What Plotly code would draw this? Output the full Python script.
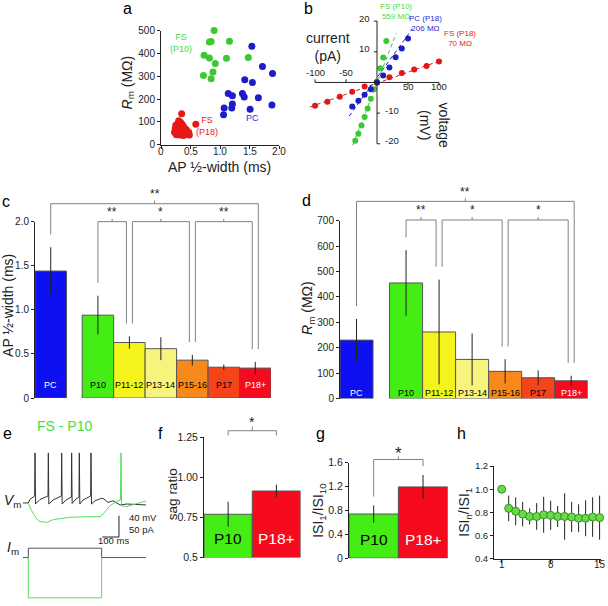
import plotly.graph_objects as go

W, H = 608, 606
FONT = "Liberation Sans, Arial, sans-serif"
INK = "#222222"
GREEN_TXT = "#44dd44"

# ------------------------------------------------------------------ data
# (a) AP half-width (ms) vs membrane resistance (MOhm)
fs_p10_halfwidth = [0.90, 0.85, 0.82, 1.16, 0.73, 0.82, 0.92, 1.11, 1.48, 0.72, 0.88, 0.85]
fs_p10_rm = [500, 452, 450, 453, 392, 380, 355, 378, 382, 303, 318, 289]
pc_halfwidth = [1.54, 1.72, 1.89, 1.42, 1.55, 1.14, 1.21, 1.38, 1.41, 1.65, 1.21, 1.20, 1.07, 1.51, 1.88, 1.06]
pc_rm = [431, 342, 312, 284, 272, 224, 214, 224, 209, 205, 178, 161, 161, 155, 174, 131]
fs_p18_halfwidth = [0.35, 0.59, 0.30, 0.33, 0.28, 0.36, 0.25, 0.31, 0.38, 0.27, 0.34, 0.29, 0.40, 0.24,
                    0.32, 0.37, 0.26, 0.30, 0.35, 0.28, 0.33, 0.42, 0.23, 0.31, 0.36, 0.27, 0.39, 0.29,
                    0.34, 0.45, 0.26, 0.32, 0.38, 0.30, 0.25, 0.35, 0.28, 0.43, 0.33, 0.31, 0.48, 0.47]
fs_p18_rm = [135, 89, 105, 98, 92, 88, 85, 82, 80, 78, 76, 74, 72, 70, 68, 66, 65, 63, 62, 60, 58, 57,
             55, 54, 52, 50, 49, 48, 46, 45, 44, 42, 40, 70, 60, 75, 55, 65, 85, 95, 42, 55]
a_xticks = [0, 0.5, 1.0, 1.5, 2.0]
a_xticklabels = ["0", "0.5", "1.0", "1.5", "2.0"]

# (b) I-V relations: current (pA) / voltage (mV)
iv_fs_p10_i = [-35, -30, -25, -20, -15, -10, -5, 0, 5, 10, 15]
iv_fs_p10_v = [-19, -16.7, -14, -11.3, -8.5, -5.3, -2.2, 0, 4.6, 8.1, 13.5]
iv_pc_p18_i = [-40, -30, -20, -10, 0, 10, 20, 30, 40, 50]
iv_pc_p18_v = [-7.8, -6.0, -4.0, -2.2, 0, 2.3, 4.9, 8.2, 11.1, 14.3]
iv_fs_p18_i = [-100, -80, -60, -40, -20, 0, 20, 40, 60, 80, 100]
iv_fs_p18_v = [-7.6, -6.3, -4.7, -3.0, -1.3, 0, 1.7, 3.1, 4.2, 5.4, 6.8]
fit_fs_p10_i = [-39, 31]
fit_fs_p10_v = [-20.5, 16]
fit_pc_p18_i = [-45, 57]
fit_pc_p18_v = [-11, 17.5]
fit_fs_p18_i = [-108, 105]
fit_fs_p18_v = [-8, 7.3]
b_xticks = [-100, -50, 50, 100]
b_yticks = [-20, -10, 10, 20]

# (c, d) bars
bar_categories = ["PC", "P10", "P11-12", "P13-14", "P15-16", "P17", "P18+"]
ap_halfwidth = [1.44, 0.94, 0.63, 0.56, 0.43, 0.35, 0.34]
ap_halfwidth_err = [0.27, 0.22, 0.07, 0.13, 0.06, 0.03, 0.07]
rm_mean = [230, 455, 262, 154, 107, 82, 70]
rm_err = [83, 129, 206, 102, 48, 29, 20]
c_signif = [("PC", "P18+", "**"), ("P10", "P11-12", "**"), ("P11-12", "P15-16", "*"), ("P15-16", "P18+", "**")]
d_signif = [("PC", "P18+", "**"), ("P10", "P11-12", "**"), ("P11-12", "P15-16", "*"), ("P15-16", "P18+", "*")]

# (e) example traces, time (ms), Vm (mV), Im (pA)
vm_black_t = [0, 32, 42, 70, 72, 75, 102, 150, 152, 155, 180, 230, 232, 235, 258, 290, 292, 295, 312, 336,
              338, 341, 360, 406, 408, 411, 432, 472, 486, 510, 540, 582, 624, 672, 738]
vm_black_v = [-70, -70, -63, -57, 24, -72, -63.5, -57, 24, -72, -64.5, -57, 24, -72, -64.5, -59, 24, -71,
              -64.5, -59, 24, -72, -64.5, -57, 24, -72, -66, -61, -62.6, -69, -66, -73.7, -72, -72.8, -73.7]
vm_green_t = [0, 32, 52, 82, 102, 142, 182, 282, 382, 462, 474, 492, 522, 558, 585, 588, 592, 622, 672, 738]
vm_green_v = [-70, -71, -84.7, -100, -105, -106.3, -101.3, -97, -95.8, -95.8, -93, -86.6, -75.5, -68,
              -64.5, 24, -75.5, -76.8, -71.8, -66.3]
im_black_t = [0, 32, 32, 472, 472, 738]
im_black_i = [0, 0, 22, 22, 0, 0]
im_green_t = [32, 32, 472, 472]
im_green_i = [0, -95, -95, 0]

# (f, g) two-group bars
fg_categories = ["P10", "P18+"]
sag_ratio = [0.77, 0.915]
sag_ratio_err = [0.078, 0.04]
isi_ratio = [0.74, 1.195]
isi_ratio_err = [0.145, 0.20]

# (h) ISIn / ISI1
isi_index = list(range(1, 16))
isi_adapt = [1.0, 0.835, 0.81, 0.785, 0.765, 0.765, 0.78, 0.775, 0.765, 0.765, 0.76, 0.75, 0.75, 0.76, 0.755]
isi_adapt_err = [0, 0.11, 0.12, 0.105, 0.07, 0.115, 0.155, 0.125, 0.09, 0.2, 0.13, 0.12, 0.155, 0.17, 0.19]
h_xticks = [1, 8, 15]

# ------------------------------------------------------------------ style
BAR_COLORS = {"PC": "#0d10f0", "P10": "#44ee14", "P11-12": "#f4f41c", "P13-14": "#f6f47c",
              "P15-16": "#f7881a", "P17": "#f5431a", "P18+": "#f50a1e"}
LABEL_COLORS = {"PC": "white", "P18+": "white"}
TXT_DY = -4  # annotation vertical correction (px)

PANELS = {
    "a": dict(n=1, xpx=(161, 279), xr=(0, 2.0), ypx=(25, 141.5), yr=(0, 500)),
    "b": dict(n=2, xpx=(308.8, 445.2), xr=(-110, 110), ypx=(2.9, 153.1), yr=(-24, 24)),
    "c": dict(n=3, xpx=(35, 271), xr=(-1.0, 6.5), ypx=(220, 400), yr=(0, 2.0)),
    "d": dict(n=4, xpx=(340, 587.7), xr=(-1.0, 6.5), ypx=(219, 400.5), yr=(0, 700)),
    "eV": dict(n=5, xpx=(23, 146.3), xr=(0, 740), ypx=(452.7, 545), yr=(-140, 30)),
    "eI": dict(n=6, xpx=(23, 146.3), xr=(0, 740), ypx=(549.7, 606), yr=(-100, 30)),
    "f": dict(n=7, xpx=(204, 300.5), xr=(0.5, 2.5), ypx=(440, 562.7), yr=(0.5, 1.25)),
    "g": dict(n=8, xpx=(349, 447.7), xr=(0.5, 2.5), ypx=(466, 563.3), yr=(0, 1.6)),
    "h": dict(n=9, xpx=(494, 601), xr=(-0.1, 15.2), ypx=(469.3, 564), yr=(0.4, 1.2)),
}


def refs(key):
    n = PANELS[key]["n"]
    return ("x", "y") if n == 1 else (f"x{n}", f"y{n}")


def to_px(key, xd, yd):
    p = PANELS[key]
    x0, x1 = p["xpx"]; r0, r1 = p["xr"]
    yt, yb = p["ypx"]; s0, s1 = p["yr"]
    return x0 + (xd - r0) / (r1 - r0) * (x1 - x0), yb - (yd - s0) / (s1 - s0) * (yb - yt)


def pp(px, py):
    return px / W, 1 - py / H


fig = go.Figure()
layout = dict(width=W, height=H, margin=dict(l=0, r=0, t=0, b=0), showlegend=False,
              paper_bgcolor="white", plot_bgcolor="white", font=dict(family=FONT, color=INK))


def tf(size):
    return dict(family=FONT, size=size, color=INK)


base_ax = dict(showgrid=False, zeroline=False, ticks="outside", ticklen=3, tickwidth=1, tickcolor=INK,
               linecolor=INK, linewidth=1, showline=True, tickfont=tf(10), fixedrange=True)

for key, p in PANELS.items():
    n = p["n"]
    xk = "xaxis" if n == 1 else f"xaxis{n}"
    yk = "yaxis" if n == 1 else f"yaxis{n}"
    xr, yr = refs(key)
    layout[xk] = dict(base_ax, domain=[p["xpx"][0] / W, p["xpx"][1] / W], range=list(p["xr"]), anchor=yr,
                      visible=False)
    layout[yk] = dict(base_ax, domain=[1 - p["ypx"][1] / H, 1 - p["ypx"][0] / H], range=list(p["yr"]),
                      anchor=xr, visible=False)

# visible axes
layout["xaxis"].update(visible=True, tickvals=a_xticks, showticklabels=False)
layout["yaxis"].update(visible=True, tickvals=[0, 100, 200, 300, 400, 500], tickfont=tf(10))
layout["yaxis3"].update(visible=True, tickvals=[0, 0.5, 1, 1.5, 2], ticktext=["0", "0.5", "1.0", "1.5", "2.0"],
                        tickfont=tf(10))
layout["yaxis4"].update(visible=True, tickvals=list(range(0, 701, 100)), tickfont=tf(10))
layout["yaxis7"].update(visible=True, tickvals=[0.5, 0.75, 1.0, 1.25], ticktext=["0.5", "0.75", "1.00", "1.25"],
                        tickfont=tf(10.5))
layout["yaxis8"].update(visible=True, tickvals=[0, 0.4, 0.8, 1.2, 1.6], ticktext=["0", "0.4", "0.8", "1.2", "1.6"],
                        tickfont=tf(10.5))
layout["xaxis9"].update(visible=True, tickvals=h_xticks, showticklabels=False)
layout["yaxis9"].update(visible=True, tickvals=[0.4, 0.6, 0.8, 1.0, 1.2], ticktext=["0.4", "0.6", "0.8", "1.0", "1.2"],
                        tickfont=tf(9.5))

annotations = []
shapes = []


def ann(text, px, py, size=11, color=INK, family=FONT, **kw):
    if kw.get("textangle", 0) == 0:
        py = py + TXT_DY
    x, y = pp(px, py)
    d = dict(text=text, x=x, y=y, xref="paper", yref="paper", showarrow=False,
             font=dict(family=family, size=size, color=color), xanchor="center", yanchor="middle")
    d.update(kw)
    annotations.append(d)


def pline(x0, y0, x1, y1, color="#808080", width=1):
    a0, b0 = pp(x0, y0)
    a1, b1 = pp(x1, y1)
    shapes.append(dict(type="line", xref="paper", yref="paper", x0=a0, y0=b0, x1=a1, y1=b1,
                       line=dict(color=color, width=width)))


# ---------------- panel a
xr, yr = refs("a")
for xs, ys, col in [(fs_p18_halfwidth, fs_p18_rm, "#e81818"), (fs_p10_halfwidth, fs_p10_rm, "#3cc832"),
                    (pc_halfwidth, pc_rm, "#1c1cc8")]:
    fig.add_trace(go.Scatter(x=xs, y=ys, mode="markers", marker=dict(size=7, color=col), cliponaxis=False,
                             xaxis=xr, yaxis=yr))
for t, lab in zip(a_xticks, a_xticklabels):
    px, _ = to_px("a", t, 0)
    ann(lab, px, 152.5, 10)
ann("FS<br>(P10)", 181, 42, 9, GREEN_TXT)
ann("PC", 252, 118, 9, "#2a2ad0")
ann("FS<br>(P18)", 207, 126, 9, "#e82020")
ann("<i>R</i><sub>m</sub> (MΩ)", 128, 78, 14, textangle=-90)
ann("AP ½-width (ms)", 219, 168, 14)

# ---------------- panel b
xr, yr = refs("b")
for fi, fv, col in [(fit_fs_p18_i, fit_fs_p18_v, "#e01818"), (fit_fs_p10_i, fit_fs_p10_v, "#3cc832"),
                    (fit_pc_p18_i, fit_pc_p18_v, "#1c1cc8")]:
    fig.add_trace(go.Scatter(x=fi, y=fv, mode="lines", line=dict(color=col, width=1, dash="4px,3px"),
                             xaxis=xr, yaxis=yr))
shapes.append(dict(type="line", xref=xr, yref=yr, x0=-100, y0=0, x1=100, y1=0, line=dict(color=INK, width=1)))
shapes.append(dict(type="line", xref=xr, yref=yr, x0=0, y0=-20, x1=0, y1=20, line=dict(color=INK, width=1)))
for t in b_xticks:
    shapes.append(dict(type="line", xref=xr, yref=yr, x0=t, y0=0, x1=t, y1=(1 if t < 0 else -1),
                       line=dict(color=INK, width=1)))
    annotations.append(dict(text=str(t), x=t, y=0, xref=xr, yref=yr, showarrow=False, font=tf(9.5),
                            yshift=(10 if t < 0 else -4), xanchor="center", yanchor="middle"))
for t in b_yticks:
    shapes.append(dict(type="line", xref=xr, yref=yr, x0=0, y0=t, x1=(-5 if t > 0 else 5), y1=t,
                       line=dict(color=INK, width=1)))
    annotations.append(dict(text=str(t), x=0, y=t, xref=xr, yref=yr, showarrow=False, font=tf(9.5), yshift=3,
                            xshift=(-5 if t > 0 else 6), xanchor=("right" if t > 0 else "left"),
                            yanchor="middle"))
for xs, ys, col in [(iv_fs_p18_i, iv_fs_p18_v, "#e01818"), (iv_fs_p10_i, iv_fs_p10_v, "#3cc832"),
                    (iv_pc_p18_i, iv_pc_p18_v, "#1c1cc8")]:
    fig.add_trace(go.Scatter(x=xs, y=ys, mode="markers", marker=dict(size=6, color=col), cliponaxis=False,
                             xaxis=xr, yaxis=yr))
ann("FS (P10)<br>559 MΩ", 396, 10, 8, GREEN_TXT)
ann("PC (P18)<br>206 MΩ", 425, 22, 8, "#2a2ad0")
ann("FS (P18)<br>70 MΩ", 460, 37, 8, "#e82020")
ann("current<br>(pA)", 328, 46, 14)
ann("voltage<br>(mV)", 435, 121, 14, textangle=90)


# ---------------- panels c, d
def bar_panel(key, values, errs, signif, label_shift, inner_top_px, outer_top_px, star_font):
    xr, yr = refs(key)
    pos = [-0.5] + list(range(1, len(bar_categories)))
    fig.add_trace(go.Bar(x=pos, y=values, width=[1.0] * len(values),
                         marker=dict(color=[BAR_COLORS[c] for c in bar_categories],
                                     line=dict(color="#555555", width=1)),
                         error_y=dict(type="data", array=errs, color=INK, thickness=1, width=0),
                         xaxis=xr, yaxis=yr))
    for c, x in zip(bar_categories, pos):
        annotations.append(dict(text=c, x=x, y=0, xref=xr, yref=yr, showarrow=False,
                                font=dict(family=FONT, size=9, color=LABEL_COLORS.get(c, "black")),
                                yshift=label_shift, xanchor="center", yanchor="middle"))
    idx = {c: i for i, c in enumerate(bar_categories)}
    offsets = [(0, 3), (0, -3), (3, -3), (3, -3)]
    for (l, r, lab), (ol, orr), top in zip(signif, offsets,
                                           [outer_top_px, inner_top_px, inner_top_px, inner_top_px]):
        li, ri = idx[l], idx[r]
        xl, yl = to_px(key, pos[li], values[li] + errs[li])
        xrr, yrr = to_px(key, pos[ri], values[ri] + errs[ri])
        xl += ol
        xrr += orr
        pline(xl, yl - 13, xl, top)
        pline(xl, top, xrr, top)
        pline(xrr, top, xrr, yrr - 13)
        xc = (xl + xrr) / 2
        pline(xc, top, xc, top - 3)
        ann(lab, xc, top - 6, star_font, INK)


bar_panel("c", ap_halfwidth, ap_halfwidth_err, c_signif, 13, 220, 201.7, 12)
bar_panel("d", rm_mean, rm_err, d_signif, 6, 218.3, 199.3, 12)
ann("AP ½-width (ms)", 8, 306, 14, textangle=-90)
ann("<i>R</i><sub>m</sub> (MΩ)", 308, 308, 14, textangle=-90)

# ---------------- panel e
xr, yr = refs("eV")
fig.add_trace(go.Scatter(x=vm_black_t, y=vm_black_v, mode="lines", line=dict(color="#333333", width=1),
                         xaxis=xr, yaxis=yr))
fig.add_trace(go.Scatter(x=vm_green_t, y=vm_green_v, mode="lines", line=dict(color="#55dd55", width=1),
                         xaxis=xr, yaxis=yr))
shapes.append(dict(type="line", xref=xr, yref=yr, x0=576, y0=-94, x1=576, y1=-134, line=dict(color=INK, width=1)))
shapes.append(dict(type="line", xref=xr, yref=yr, x0=476, y0=-134, x1=576, y1=-134, line=dict(color=INK, width=1)))
xr, yr = refs("eI")
fig.add_trace(go.Scatter(x=im_green_t, y=im_green_i, mode="lines", line=dict(color="#55dd55", width=1),
                         xaxis=xr, yaxis=yr))
fig.add_trace(go.Scatter(x=im_black_t, y=im_black_i, mode="lines", line=dict(color="#555555", width=1),
                         xaxis=xr, yaxis=yr))
ann("FS - P10", 64, 432, 14, GREEN_TXT)
ann("<i>V</i><sub>m</sub>", 13, 509, 14)
ann("<i>I</i><sub>m</sub>", 13, 557, 14)
ann("40 mV", 127, 526, 9.5, xanchor="left")
ann("50 pA", 127, 538, 9.5, xanchor="left")
ann("100 ms", 113, 549, 9.5)


# ---------------- panels f, g
def two_bar(key, values, errs, shift):
    xr, yr = refs(key)
    pos = [1, 2]
    fig.add_trace(go.Bar(x=pos, y=values, width=[1.0, 1.0],
                         base=PANELS[key]["yr"][0],
                         marker=dict(color=[BAR_COLORS[c] for c in fg_categories],
                                     line=dict(color="#555555", width=1)),
                         error_y=dict(type="data", array=errs, color=INK, thickness=1, width=0),
                         xaxis=xr, yaxis=yr))
    for c, x in zip(fg_categories, pos):
        annotations.append(dict(text=c, x=x, y=PANELS[key]["yr"][0], xref=xr, yref=yr, showarrow=False,
                                font=dict(family=FONT, size=15.5, color=LABEL_COLORS.get(c, "black")),
                                yshift=shift, xanchor="center", yanchor="middle"))


base_f = PANELS["f"]["yr"][0]
two_bar("f", [v - base_f for v in sag_ratio], sag_ratio_err, 19)
two_bar("g", isi_ratio, isi_ratio_err, 19)
# f bracket
xl, _ = to_px("f", 1, 1)
xrr, _ = to_px("f", 2, 1)
pline(xl, 438, xl, 433.3); pline(xl, 433.3, xrr, 433.3); pline(xrr, 433.3, xrr, 438)
pline((xl + xrr) / 2, 433.3, (xl + xrr) / 2, 429)
ann("*", (xl + xrr) / 2, 428, 14)
# g bracket
xl, yl = to_px("g", 1, isi_ratio[0] + isi_ratio_err[0])
xrr, yrr = to_px("g", 2, isi_ratio[1] + isi_ratio_err[1])
pline(xl, yl - 9, xl, 462.7); pline(xl, 462.7, xrr, 462.7); pline(xrr, 462.7, xrr, yrr - 9)
pline((xl + xrr) / 2, 462.7, (xl + xrr) / 2, 459.5)
ann("*", (xl + xrr) / 2, 461, 17)
ann("sag ratio", 172, 498, 13.5, textangle=-90)
ann("ISI<sub>1</sub>/ISI<sub>10</sub>", 319, 515, 14, textangle=-90)

# ---------------- panel h
xr, yr = refs("h")
fig.add_trace(go.Scatter(x=isi_index, y=isi_adapt, mode="markers",
                         marker=dict(size=8, color="#66dd44", line=dict(color="#3a8a2a", width=1)),
                         error_y=dict(type="data", array=isi_adapt_err, color="#222222", thickness=1, width=0),
                         cliponaxis=False, xaxis=xr, yaxis=yr))
for t in h_xticks:
    px, _ = to_px("h", t, 0.4)
    ann(str(t), px, 574, 10)
ann("ISI<sub>n</sub>/ISI<sub>1</sub>", 465, 517, 14, textangle=-90)

# panel letters
for letter, px, py in [("a", 127, 7), ("b", 308, 7), ("c", 6, 203), ("d", 306, 202),
                       ("e", 7, 440), ("f", 160, 440), ("g", 320, 440), ("h", 462, 440)]:
    ann(letter, px, py, 16, "black")

layout["annotations"] = annotations
layout["shapes"] = shapes
fig.update_layout(**layout)

fig.write_html("out.html", config={"displayModeBar": False, "staticPlot": True},
               post_script="document.body.style.margin='0';document.body.style.overflow='hidden';")
